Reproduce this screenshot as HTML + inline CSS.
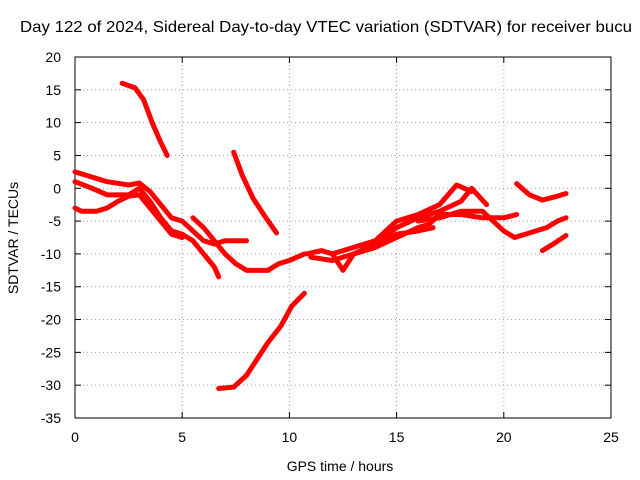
<!DOCTYPE html>
<html><head><meta charset="utf-8"><style>
body{margin:0;background:#fff}
svg{display:block;font-family:"Liberation Sans",sans-serif}
</style></head><body>
<svg id="chart" width="640" height="480">
<text x="20" y="32" font-size="16" textLength="612" lengthAdjust="spacingAndGlyphs">Day 122 of 2024, Sidereal Day-to-day VTEC variation (SDTVAR) for receiver bucu</text>
<text x="340" y="471" font-size="14" text-anchor="middle">GPS time / hours</text>
<text transform="translate(18,238) rotate(-90)" font-size="14" text-anchor="middle">SDTVAR / TECUs</text>
<g id="grid"></g><g id="axes"></g><g id="series"></g>
</svg>
<script>
const xTicks=[0,5,10,15,20,25];
const yTicks=[20,15,10,5,0,-5,-10,-15,-20,-25,-30,-35];
const track1=[[2.2,16],[2.8,15.3],[3.2,13.5],[3.6,10],[4.0,7],[4.3,5]];
const track2=[[7.4,5.5],[7.8,2],[8.3,-1.5],[8.8,-4],[9.4,-6.8]];
const track3=[[6.7,-30.5],[7.4,-30.3],[8,-28.5],[8.5,-26],[9,-23.5],[9.6,-21],[10.1,-18],[10.7,-16]];
const track4=[[20.6,0.7],[21.2,-1],[21.8,-1.8],[22.5,-1.2],[22.9,-0.8]];
const track5=[[21.8,-9.5],[22.3,-8.5],[22.9,-7.2]];
const track6=[[0,2.5],[0.5,2],[1,1.5],[1.5,1],[2.5,0.5],[3,0.8],[3.5,-0.5],[4,-2.5],[4.5,-4.5],[5,-5],[5.5,-6.5],[6,-8],[6.5,-8.5],[7,-8],[7.5,-8],[8,-8]];
const track7=[[0,1],[0.8,0],[1.5,-1],[2.5,-1],[3,0],[3.5,-2],[4,-4.5],[4.5,-6.5],[5,-7],[5.5,-8],[6,-10],[6.5,-12],[6.7,-13.5]];
const track8=[[0,-3],[0.3,-3.5],[1,-3.5],[1.5,-3],[2,-2],[2.5,-1.2],[3,-1],[3.5,-3],[4,-5],[4.5,-7],[5,-7.5]];
const track9=[[5.5,-4.5],[6,-6],[6.5,-8],[7,-10],[7.5,-11.5],[8,-12.5],[9,-12.5],[9.5,-11.5],[10,-11],[10.7,-10]];
const track10=[[10.8,-10],[11.5,-9.5],[12,-10],[12.5,-12.5],[13,-10],[14,-9],[15,-7],[16,-6.5],[16.7,-6]];
const track11=[[11,-10.5],[12,-11],[13,-10],[14,-8.5],[15,-6],[16,-4.5],[17,-3.5],[18,-2],[18.5,0],[19.2,-2.5]];
const track12=[[12,-10],[13,-9],[14,-8],[15,-5],[16,-4],[17,-2.5],[17.8,0.5],[18.5,-0.5]];
const track13=[[13,-10],[14,-9],[15,-7.5],[16,-6],[16.5,-5.5],[17,-4],[18,-4],[19,-4.5],[20,-4.5],[20.6,-4]];
const track14=[[16,-5],[17,-4.5],[18,-3.5],[19,-3.5],[19.5,-5],[20,-6.5],[20.5,-7.5],[21,-7],[22,-6],[22.5,-5],[22.9,-4.5]];
const tracks=[track1,track2,track3,track4,track5,track6,track7,track8,track9,track10,track11,track12,track13,track14];

const L=75,R=611,T=57,B=418;
const xs=v=>L+(v-0)/(25-0)*(R-L);
const ys=v=>B-(v+35)/(55)*(B-T);
const NS="http://www.w3.org/2000/svg";
function mk(tag,attrs,parent){const e=document.createElementNS(NS,tag);for(const k in attrs)e.setAttribute(k,attrs[k]);parent.appendChild(e);return e;}
const grid=document.getElementById('grid'),axes=document.getElementById('axes'),series=document.getElementById('series');
xTicks.forEach(t=>{
  const x=xs(t);
  if(t>0&&t<25){const g=mk('line',{x1:x,x2:x,y1:T,y2:B,stroke:'#a0a0a0','stroke-dasharray':'1,3','stroke-width':1},grid);
  
  }
  mk('line',{x1:x,x2:x,y1:B,y2:B-6,stroke:'#000'},axes);
  mk('line',{x1:x,x2:x,y1:T,y2:T+6,stroke:'#000'},axes);
  const tx=mk('text',{x:x,y:B+24,'font-size':14,'text-anchor':'middle'},axes);tx.textContent=t;
  
  
});
yTicks.forEach(t=>{
  const y=ys(t);
  if(t<20&&t>-35){const g=mk('line',{x1:L,x2:R,y1:y,y2:y,stroke:'#a0a0a0','stroke-dasharray':'1,3','stroke-width':1},grid);
  
  }
  mk('line',{x1:L,x2:L+6,y1:y,y2:y,stroke:'#000'},axes);
  mk('line',{x1:R,x2:R-6,y1:y,y2:y,stroke:'#000'},axes);
  const tx=mk('text',{x:L-14,y:y+5,'font-size':14,'text-anchor':'end'},axes);tx.textContent=t;
  
  
});
const fr=mk('rect',{x:L,y:T,width:R-L,height:B-T,fill:'none',stroke:'#000'},axes);


tracks.forEach((tr,i)=>{
  const p=mk('polyline',{points:tr.map(d=>xs(d[0])+','+ys(d[1])).join(' '),fill:'none',stroke:'#ff0000','stroke-width':5,'stroke-linejoin':'round','stroke-linecap':'round'},series);
  
  
});
</script>
</body></html>
